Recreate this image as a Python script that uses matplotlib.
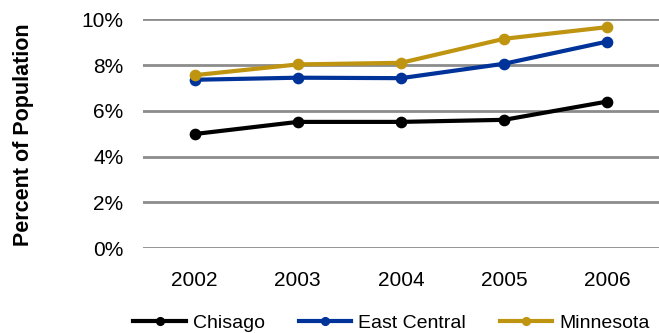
import matplotlib
matplotlib.use("Agg")
import matplotlib.pyplot as plt
from matplotlib.ticker import FuncFormatter

plt.rcParams['font.family'] = ['Liberation Sans', 'DejaVu Sans']

years = ["2002", "2003", "2004", "2005", "2006"]
chisago = [4.99, 5.52, 5.52, 5.61, 6.41]
east_central = [7.36, 7.45, 7.43, 8.06, 9.03]
minnesota = [7.56, 8.03, 8.10, 9.15, 9.66]

series = [
    ("Chisago", chisago, "#000000"),
    ("East Central", east_central, "#003399"),
    ("Minnesota", minnesota, "#BF9410"),
]
y_ticks = [0, 2, 4, 6, 8, 10]

fig = plt.figure(figsize=(6.59, 3.33), dpi=100)
ax = fig.add_axes([0.217, 0.2544, 0.783, 0.6876])

x = list(range(len(years)))
for name, vals, color in series:
    ax.plot(x, vals, color=color, lw=3.0, marker="o", markersize=7.4,
            label=name, clip_on=False, zorder=3)

ax.set_xlim(-0.5, len(years) - 0.5)
ax.set_ylim(0, 10)
ax.set_yticks(y_ticks)
ax.yaxis.set_major_formatter(FuncFormatter(lambda v, p: f"{v:.0f}%"))
ax.set_xticks(x)
ax.set_xticklabels(years)
ax.grid(axis="y", color="#8c8c8c", lw=2.0, zorder=1)
ax.set_axisbelow(True)
for s in ax.spines.values():
    s.set_visible(False)
ax.tick_params(axis="both", length=0, labelsize=15, colors="black")
ax.tick_params(axis="y", pad=14)
ax.tick_params(axis="x", pad=16)

fig.text(0.036, 0.596, "Percent of Population", rotation=90, fontsize=15.5,
         fontweight="bold", ha="center", va="center")

leg = fig.legend(loc="center", bbox_to_anchor=(0.594, 0.03), ncol=3,
                 frameon=False, fontsize=14, handlelength=2.7,
                 handletextpad=0.35, columnspacing=1.75, markerscale=0.75,
                 borderaxespad=0, borderpad=0)

fig.savefig("out.png", dpi=100)
